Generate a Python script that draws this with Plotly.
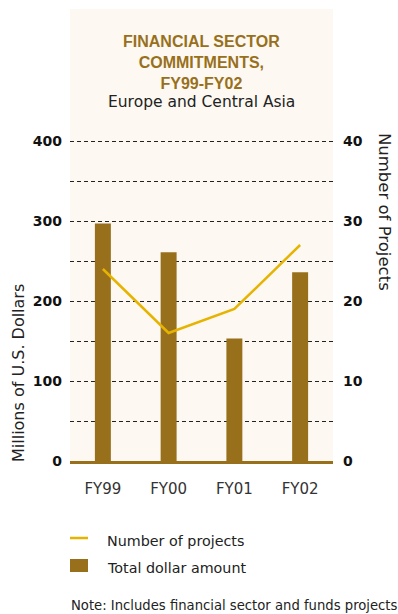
import plotly.graph_objects as go

# Financial sector commitments, Europe and Central Asia
years = ["FY99", "FY00", "FY01", "FY02"]
dollars_musd = [297, 261, 153, 236]      # total dollar amount, millions of US$
num_projects = [24, 16, 19, 27]          # number of projects

left_ticks = [0, 50, 100, 150, 200, 250, 300, 350, 400]
left_labels = ["0", "", "100", "", "200", "", "300", "", "400"]
right_ticks = [0, 10, 20, 30, 40]
legend_names = ["Number of projects", "Total dollar amount"]

BROWN = "#98701c"
GOLD = "#e6b400"
PANEL = "#fdf9f2"
FONT = "DejaVu Sans"
TEXT = "#222"

# Axis tops sit a little above the last gridline so it stays visible
Y_TOP, Y2_TOP = 405, 40.5

W, H = 398, 614
ML, MR, MB = 70, 65, 153
MT = 137
plot_w = W - ML - MR
plot_h = H - MT - MB


def py(pixel_y):
    """Pixel row -> paper y coordinate."""
    return (H - MB - pixel_y) / plot_h


def px(pixel_x):
    """Pixel column -> paper x coordinate."""
    return (pixel_x - ML) / plot_w


fig = go.Figure()

fig.add_trace(go.Bar(
    x=years, y=dollars_musd, name=legend_names[1],
    marker=dict(color=BROWN, line=dict(width=0)),
))
fig.add_trace(go.Scatter(
    x=years, y=num_projects, name=legend_names[0], yaxis="y2",
    mode="lines", line=dict(color=GOLD, width=2.5),
))

# Panel background extending above the plotting area to hold the title
fig.add_shape(type="rect", xref="paper", yref="paper", x0=0, x1=1,
              y0=0, y1=py(9), fillcolor=PANEL, line=dict(width=0), layer="below")

fig.add_annotation(text="<b>FINANCIAL SECTOR<br>COMMITMENTS,<br>FY99-FY02</b>",
                   xref="paper", yref="paper", x=0.5, y=py(31), yanchor="top",
                   xanchor="center", showarrow=False, align="center",
                   font=dict(family="Liberation Sans", size=16, color=BROWN))
fig.add_annotation(text="Europe and Central Asia",
                   xref="paper", yref="paper", x=0.5, y=py(91), yanchor="top",
                   xanchor="center", showarrow=False,
                   font=dict(family=FONT, size=15.5, color=TEXT))

fig.add_annotation(text="Millions of U.S. Dollars", textangle=-90,
                   xref="paper", yref="paper", x=px(18), y=py(373),
                   xanchor="center", yanchor="middle",
                   showarrow=False, font=dict(family=FONT, size=16, color=TEXT))
fig.add_annotation(text="Number of Projects", textangle=90,
                   xref="paper", yref="paper", x=px(385), y=py(212),
                   xanchor="center", yanchor="middle",
                   showarrow=False, font=dict(family=FONT, size=16.5, color=TEXT))

# Legend: short line and square swatch with labels
fig.add_shape(type="line", xref="paper", yref="paper",
              x0=px(70), x1=px(88), y0=py(538), y1=py(538),
              line=dict(color=GOLD, width=2.5))
fig.add_shape(type="rect", xref="paper", yref="paper",
              x0=px(70), x1=px(88), y0=py(572), y1=py(559),
              fillcolor=BROWN, line=dict(width=0))
for name, row in zip(legend_names, [541, 568]):
    fig.add_annotation(text=name, xref="paper", yref="paper",
                       x=px(105), y=py(row), xanchor="left", yanchor="middle",
                       showarrow=False, font=dict(family=FONT, size=14.3, color=TEXT))

fig.add_annotation(text="Note: Includes financial sector and funds projects",
                   xref="paper", yref="paper", x=px(69), y=py(605),
                   xanchor="left", yanchor="middle", showarrow=False,
                   font=dict(family=FONT, size=13.2, color=TEXT))

fig.update_layout(
    width=W, height=H,
    margin=dict(l=ML, r=MR, t=MT, b=MB, pad=0),
    paper_bgcolor="white", plot_bgcolor="rgba(0,0,0,0)",
    bargap=0.757,
    showlegend=False,
    xaxis=dict(showgrid=False, showline=True, linecolor=BROWN, linewidth=2.5,
               ticks="", tickfont=dict(family=FONT, size=15, color="#333"),
               ticklabelstandoff=12),
    yaxis=dict(range=[0, Y_TOP], tickvals=left_ticks, ticktext=left_labels,
               showgrid=True, gridcolor="#222", griddash="4px,3px", gridwidth=1.2,
               zeroline=False, showline=False, ticks="",
               tickfont=dict(family=FONT, size=14, color="#111", weight="bold"),
               ticklabelstandoff=7),
    yaxis2=dict(range=[0, Y2_TOP], tickvals=right_ticks, overlaying="y", side="right",
                showgrid=False, zeroline=False, showline=False, ticks="",
                tickfont=dict(family=FONT, size=14, color="#111", weight="bold"),
                ticklabelstandoff=9),
)

fig.write_html("out.html")
